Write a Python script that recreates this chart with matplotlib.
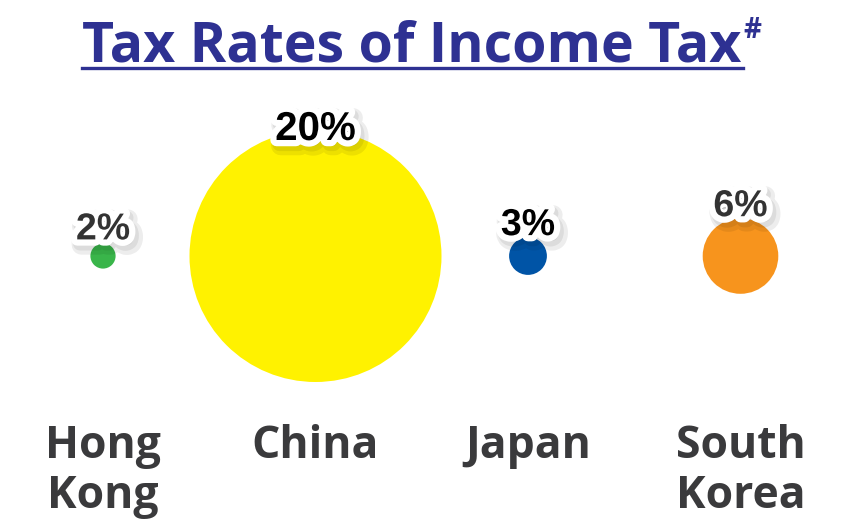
import matplotlib
matplotlib.use("Agg")
import matplotlib.pyplot as plt
import matplotlib.patheffects as pe
from matplotlib.lines import Line2D

# data
regions = ["Hong\nKong", "China", "Japan", "South\nKorea"]
rates = [2, 20, 3, 6]
rate_labels = ["2%", "20%", "3%", "6%"]
colors = ["#39B54A", "#FFF200", "#0054A6", "#F7941D"]
label_colors = ["#333333", "#000000", "#000000", "#333333"]

W, H, DPI = 847, 526, 100
PX_PER_PCT = 12.6          # circle diameter in px per percentage point
ROW_Y = 256                # circle row, px from top
X0, DX = 103, 212.5        # first column centre and spacing, px

fig = plt.figure(figsize=(W / DPI, H / DPI), dpi=DPI)
ax = fig.add_axes([0, 0, 1, 1])
ax.set_xlim(-X0 / DX, (W - X0) / DX)
ax.set_ylim(-(H - ROW_Y), ROW_Y)     # 1 y unit = 1 px, circles at y=0
ax.axis("off")

xs = list(range(len(regions)))
diam_px = [r * PX_PER_PCT for r in rates]
sizes = [(d * 72 / DPI) ** 2 for d in diam_px]
ax.scatter(xs, [0] * len(xs), s=sizes, c=colors, linewidths=0, zorder=2)

glow = [pe.Stroke(offset=(3, -4), linewidth=14, foreground="#000000", alpha=0.07),
        pe.Stroke(offset=(2, -3), linewidth=10, foreground="#000000", alpha=0.07),
        pe.Stroke(linewidth=9, foreground="white"),
        pe.Normal()]

# value labels sit on the top edge of each bubble
lab_off = [4, -10, 2, 2]
lab_size = [27, 29, 27, 27]
for x, d, t, c, off, fs in zip(xs, diam_px, rate_labels, label_colors, lab_off, lab_size):
    ax.text(x, d / 2 + off, t, ha="center", va="baseline", fontsize=fs,
            fontweight="bold", family=["Liberation Sans", "DejaVu Sans"],
            color=c, path_effects=glow, zorder=3)

# category names
for x, name in zip(xs, regions):
    ax.text(x, ROW_Y - 424, name, ha="center", va="top", fontsize=32,
            fontweight="bold", family=["Open Sans", "DejaVu Sans"],
            color="#3A3A3C", linespacing=1.15)

# title with underline and superscript #
title_color = "#2E3192"
title = fig.text(82 / W, 1 - 62 / H, "Tax Rates of Income Tax", ha="left",
                 va="baseline", fontsize=40, fontweight="bold",
                 family=["Open Sans", "DejaVu Sans"], color=title_color)
fig.canvas.draw()
bb = title.get_window_extent().transformed(fig.transFigure.inverted())
fig.text(bb.x1 + 2 / W, 1 - 38 / H, "#", ha="left", va="baseline", fontsize=20,
         fontweight="bold", family=["Open Sans", "DejaVu Sans"], color=title_color)
fig.add_artist(Line2D([bb.x0, bb.x1 + 2 / W], [1 - 68 / H, 1 - 68 / H],
                      transform=fig.transFigure, color=title_color, lw=2.4))

fig.savefig("out.png", dpi=DPI)
